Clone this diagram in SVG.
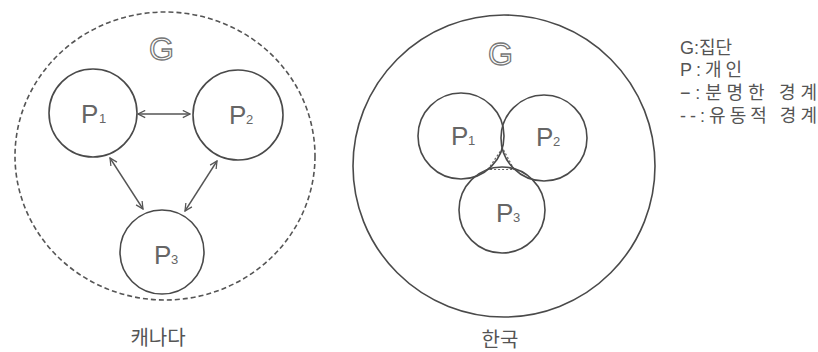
<svg xmlns="http://www.w3.org/2000/svg" width="818" height="352" viewBox="0 0 818 352">
<style>
.ln{fill:none;stroke:#4a4a4a;stroke-width:1.6}
.dash{fill:none;stroke:#555;stroke-width:1.6;stroke-dasharray:5 3}
.dot{fill:none;stroke:#666;stroke-width:1.2;stroke-dasharray:2 2}
.arr{fill:none;stroke:#555;stroke-width:1.4}
.g{font-family:"Liberation Sans",Arial,sans-serif;font-size:32px;fill:#fff;stroke:#777;stroke-width:1.3}
.p{font-family:"Liberation Sans",Arial,sans-serif;font-size:26px;fill:#666}
.s{font-family:"Liberation Sans",Arial,sans-serif;font-size:13px;fill:#666}
.k{font-family:"Liberation Sans","Noto Sans CJK KR",sans-serif;font-size:20px;fill:#555}
.lg{font-family:"Liberation Sans","Noto Sans CJK KR",sans-serif;font-size:18px;fill:#555}
</style>
<defs>
<marker id="ah" viewBox="0 0 10 10" refX="9" refY="5" markerWidth="9" markerHeight="9" orient="auto-start-reverse" markerUnits="userSpaceOnUse">
<path d="M1,1 L9,5 L1,9" fill="none" stroke="#555" stroke-width="1.4"/>
</marker>
</defs>
<g id="canada">
<ellipse id="G-canada" class="dash" cx="165" cy="156" rx="150" ry="144"/>
<text class="g" x="149" y="60">G</text>
<g id="c-P1"><circle class="ln" cx="93" cy="113" r="44"/><text class="p" x="81" y="123">P</text><text class="s" x="99" y="123">1</text></g>
<g id="c-P2"><circle class="ln" cx="238" cy="115" r="45"/><text class="p" x="229" y="124">P</text><text class="s" x="246" y="124">2</text></g>
<g id="c-P3"><circle class="ln" cx="162" cy="252" r="42"/><text class="p" x="154" y="264">P</text><text class="s" x="171" y="264">3</text></g>
<text class="k" x="158" y="345" text-anchor="middle">캐나다</text>
</g>
<g id="connectors">
<line class="arr" x1="138" y1="114" x2="190" y2="114" marker-start="url(#ah)" marker-end="url(#ah)"/>
<line class="arr" x1="110" y1="158" x2="143" y2="209" marker-start="url(#ah)" marker-end="url(#ah)"/>
<line class="arr" x1="217" y1="161" x2="185" y2="211" marker-start="url(#ah)" marker-end="url(#ah)"/>
<path class="dot" d="M502.5,148 L488,169.5 L514,169.5 Z"/>
</g>
<g id="korea">
<circle id="G-korea" class="ln" cx="504" cy="166" r="151"/>
<text class="g" x="488" y="65">G</text>
<g id="k-P1"><circle class="ln" cx="461" cy="136" r="43"/><text class="p" x="451" y="145">P</text><text class="s" x="468" y="145">1</text></g>
<g id="k-P2"><circle class="ln" cx="544" cy="138" r="43"/><text class="p" x="536" y="146">P</text><text class="s" x="553" y="146">2</text></g>
<g id="k-P3"><circle class="ln" cx="502" cy="210" r="43"/><text class="p" x="496" y="222">P</text><text class="s" x="513" y="222">3</text></g>
<text class="k" x="500" y="347" text-anchor="middle">한국</text>
</g>
<g id="legend">
<text class="lg" x="680" y="54" textLength="52" lengthAdjust="spacing">G:집단</text>
<text class="lg" x="680" y="76" textLength="62" lengthAdjust="spacing">P:개인</text>
<text class="lg" x="680" y="99" textLength="137" lengthAdjust="spacing">−:분명한 경계</text>
<text class="lg" x="680" y="122" textLength="137" lengthAdjust="spacing">--:유동적 경계</text>
</g>
</svg>
